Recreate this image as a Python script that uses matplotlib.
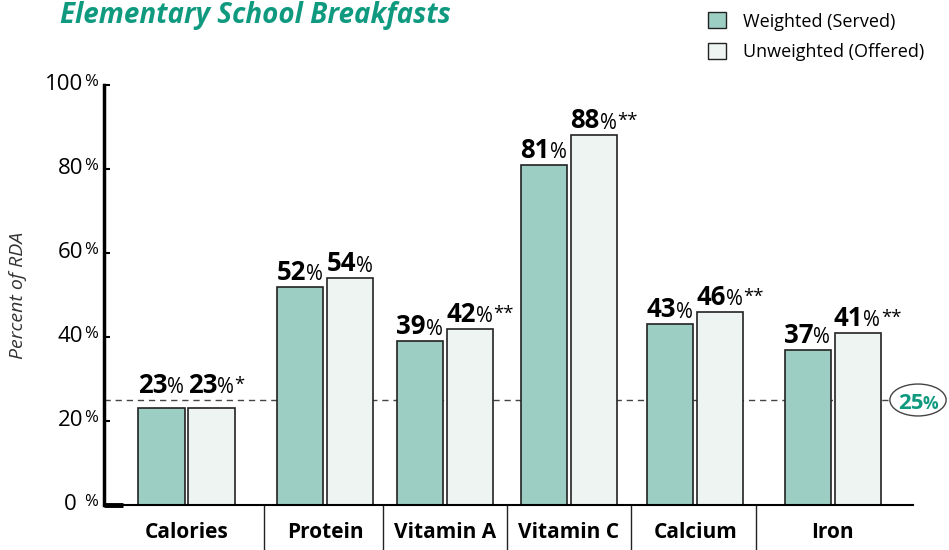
import matplotlib
matplotlib.use("Agg")
import matplotlib.pyplot as plt
from matplotlib.patches import Ellipse, Patch

# datos
categories = ["Calories", "Protein", "Vitamin A", "Vitamin C", "Calcium", "Iron"]
weighted = [23, 52, 39, 81, 43, 37]
unweighted = [23, 54, 42, 88, 46, 41]
unweighted_marks = ["*", "", "**", "**", "**", "**"]
y_ticks = [0, 20, 40, 60, 80, 100]
target = 25

# layout (unidades del eje x)
centers = [0.66, 1.77, 2.73, 3.72, 4.73, 5.83]
separators = [1.28, 2.23, 3.22, 4.22, 5.22]
bar_w = 0.37
off = 0.2

teal = "#0f9a80"
c_served = "#9dcec3"
c_offered = "#eef4f1"
edge = "#222222"

plt.rcParams["font.family"] = ["Open Sans", "DejaVu Sans"]

fig = plt.figure(figsize=(9.49, 5.5), dpi=100)
ax = fig.add_axes([104 / 949, 45 / 550, 809 / 949, 420 / 550])
ax.set_xlim(0, 809 / 125)
ax.set_ylim(0, 100)

xw = [c - off for c in centers]
xu = [c + off for c in centers]
ax.bar(xw, weighted, width=bar_w, color=c_served, edgecolor=edge, linewidth=1.2, zorder=2)
ax.bar(xu, unweighted, width=bar_w, color=c_offered, edgecolor=edge, linewidth=1.2, zorder=2)


def pct_label(x, y, num, marks="", size=18.5, color="black", dx=4, dy=5):
    # las etiquetas no pisan la linea del 25%
    t = ax.annotate(num, xy=(x, max(y, target)), xytext=(dx, dy), textcoords="offset points",
                    ha="right", va="baseline", fontsize=size, fontweight="bold",
                    color=color, annotation_clip=False)
    p = ax.annotate("%", xy=(1, 0), xycoords=t, xytext=(0, 0.5), textcoords="offset points",
                    ha="left", va="bottom", fontsize=size * 0.8, color=color)
    if marks:
        ax.annotate(marks, xy=(1, 1), xycoords=p, xytext=(0.5, 1), textcoords="offset points",
                    ha="left", va="top", fontsize=size * 0.72, color=color)
    return t


for i in range(len(categories)):
    pct_label(xw[i], weighted[i], str(weighted[i]))
    pct_label(xu[i], unweighted[i], str(unweighted[i]), unweighted_marks[i])

# linea del 25%
ax.plot([0, 784 / 125], [target, target], color="#444444", lw=1,
        ls=(0, (4.5, 3.5)), zorder=1)
ell = Ellipse((814 / 125, target), width=0.45, height=7.6, facecolor="white",
              edgecolor="#444444", lw=1, clip_on=False, zorder=3)
ax.add_patch(ell)
t25 = ax.annotate(str(target), xy=(814 / 125, target), xytext=(4, -6.5), textcoords="offset points",
                  ha="right", va="baseline", fontsize=16, fontweight="bold", color=teal,
                  annotation_clip=False, zorder=4)
ax.annotate("%", xy=(1, 0), xycoords=t25, xytext=(-1, 0.5), textcoords="offset points",
            ha="left", va="bottom", fontsize=12.5, fontweight="bold", color=teal, zorder=4)

# ejes
for s in ["top", "right"]:
    ax.spines[s].set_visible(False)
ax.spines["left"].set_linewidth(2.5)
ax.spines["bottom"].set_linewidth(1.5)
ax.plot([0, 0.15], [0, 0], color="black", lw=3.5, clip_on=False, solid_capstyle="butt")
ax.set_xticks([])
ax.set_yticks(y_ticks)
ax.set_yticklabels([])
ax.tick_params(axis="y", direction="in", length=4, width=1.5)

ytr = ax.get_yaxis_transform()
for v in y_ticks:
    num = str(v) + (" " if v == 0 else "")
    tn = ax.text(-21 / 809, v, num, transform=ytr, ha="right", va="center", fontsize=16)
    ax.annotate("%", xy=(1, 0.25), xycoords=tn, xytext=(0.5, 0), textcoords="offset points",
                ha="left", va="bottom", fontsize=12)

# separadores y categorias
xtr = ax.get_xaxis_transform()
ax.vlines(separators, 0, -45 / 420, transform=xtr, color="#222222", lw=1, clip_on=False)
for c, name in zip(centers, categories):
    ax.text(c, -28 / 420, name, transform=xtr, ha="center", va="center",
            fontsize=15, fontweight="bold")

fig.text(18 / 949, 1 - 295 / 550, "Percent of RDA", rotation=90, ha="center", va="center",
         fontsize=14, style="italic", color="#333333")
fig.text(60 / 949, 1 - 15 / 550, "Elementary School Breakfasts", ha="left", va="center",
         fontsize=20, style="italic", fontweight="bold", color=teal)

handles = [Patch(facecolor=c_served, edgecolor=edge, lw=1),
           Patch(facecolor=c_offered, edgecolor=edge, lw=1)]
fig.legend(handles, ["Weighted (Served)", "Unweighted (Offered)"], loc="upper left",
           bbox_to_anchor=(692 / 949, 1 + 4 / 550), frameon=False, fontsize=13,
           handlelength=1.0, handleheight=1.0, handletextpad=0.9, labelspacing=0.7)

fig.savefig("out.png", dpi=100)
